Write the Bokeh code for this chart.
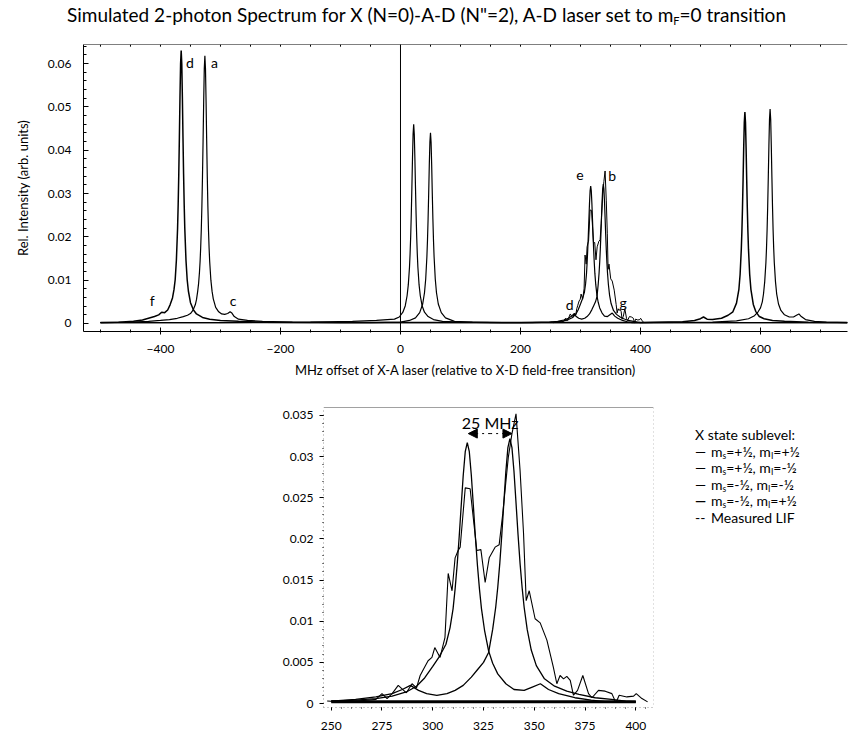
from bokeh.plotting import figure
from bokeh.models import Range1d, FixedTicker, Span, Arrow, NormalHead, Div
from bokeh.layouts import column, row
from bokeh.embed import file_html
from bokeh.resources import INLINE
from bokeh.core.properties import value

FONT = "Lato"

# ---------------- data (MHz, relative intensity) ----------------
# m_s=+1/2, m_I=+1/2  (peak "a" and peak near 616 MHz)
sim_pp = [(-500,0.0002),(-450,0.0003),(-420,0.0005),(-400,0.0007),(-385,0.0009),(-372,0.0012),(-362,0.0016),
          (-355,0.0019),(-350,0.0023),(-346,0.0030),(-342,0.0043),(-340,0.0055),(-338,0.0074),(-336.5,0.0092),
          (-335,0.0119),(-334,0.0143),(-333,0.0175),(-332,0.0216),(-331,0.0270),(-330,0.0339),(-329,0.0422),
          (-328,0.0512),(-327,0.0588),(-326,0.0618),(-325,0.0588),(-324,0.0512),(-323,0.0422),(-322,0.0339),
          (-321,0.0270),(-320,0.0216),(-319,0.0175),(-318,0.0143),(-316,0.0100),(-314,0.0074),(-312,0.0057),
          (-308,0.0037),(-303,0.0027),(-298,0.0022),(-293,0.0021),(-288,0.0023),(-284,0.0027),(-281,0.0024),
          (-277,0.0016),(-270,0.0010),(-255,0.0007),(-230,0.0005),(-180,0.0003),(-100,0.0002),(0,0.0002),
          (150,0.0002),(250,0.0002),(400,0.0002),(520,0.0003),(560,0.0006),(580,0.0011),(590,0.0018),
          (596,0.0027),(600,0.0036),(603,0.0050),(605,0.0068),(607,0.0096),(609,0.0140),(610,0.0173),
          (611,0.0216),(612,0.0271),(613,0.0338),(614,0.0410),(615,0.0471),(616,0.0495),(617,0.0471),
          (618,0.0410),(619,0.0338),(620,0.0271),(621,0.0216),(622,0.0173),(623,0.0140),(625,0.0096),
          (627,0.0068),(630,0.0045),(634,0.0030),(640,0.0020),(648,0.0015),(655,0.0015),(660,0.0019),
          (664,0.0022),(668,0.0016),(675,0.0009),(690,0.0005),(710,0.0003),(745,0.0002)]

# m_s=+1/2, m_I=-1/2  (peak near 22 MHz and peak "e")
sim_pm = [(-500,0.0002),(-300,0.0002),(-150,0.0003),(-80,0.0005),(-40,0.0007),(-10,0.0010),(-2,0.0015),
          (4,0.0026),(8,0.0041),(11,0.0064),(13,0.0089),(15,0.0130),(16,0.0161),(17,0.0201),(18,0.0252),
          (19,0.0314),(20,0.0381),(21,0.0437),(22,0.0460),(23,0.0437),(24,0.0381),(25,0.0314),(26,0.0252),
          (27,0.0201),(28,0.0161),(29,0.0130),(31,0.0089),(33,0.0064),(36,0.0041),(40,0.0026),(46,0.0016),
          (55,0.0009),(70,0.0005),(100,0.0003),(150,0.0002),(200,0.0002),(250,0.0003),(262,0.0004),
          (272,0.0006),(280,0.0009),(287,0.0014),(292,0.0021),(296,0.0031),(300,0.0045),(303,0.0056),
          (305,0.0065),(306.5,0.0072),(308.5,0.0092),(310,0.0115),(311,0.0139),(312,0.0168),(313,0.0202),
          (314,0.0240),(315,0.0277),(316,0.0306),(317,0.0317),(318,0.0306),(319,0.0277),(320,0.0240),
          (321,0.0202),(322,0.0168),(323,0.0139),(324,0.0115),(325.5,0.0089),(327.5,0.0064),(329.5,0.0049),
          (332,0.0036),(336,0.0024),(340,0.0017),(345,0.0016),(349,0.0020),(353,0.0024),(357,0.0017),
          (362,0.0012),(370,0.0007),(378,0.0004),(386,0.0002),(400,0.0002),(480,0.0002),(600,0.0002),
          (745,0.0002)]

# m_s=-1/2, m_I=-1/2  (peak near 50 MHz and peak "b")
sim_mm = [(-500,0.0002),(-300,0.0002),(-150,0.0002),(-50,0.0002),(0,0.0003),(15,0.0007),(25,0.0013),
          (32,0.0025),(37,0.0045),(40,0.0071),(42,0.0102),(44,0.0154),(45,0.0192),(46,0.0241),(47,0.0300),
          (48,0.0365),(49,0.0418),(50,0.0440),(51,0.0418),(52,0.0365),(53,0.0300),(54,0.0241),(55,0.0192),
          (56,0.0154),(58,0.0102),(60,0.0071),(63,0.0045),(68,0.0025),(75,0.0013),(90,0.0005),(120,0.0003),
          (170,0.0002),(220,0.0002),(250,0.0003),(262,0.0005),(272,0.0008),(280,0.0012),(285,0.0017),
          (289,0.0022),(293,0.0016),(297,0.0012),(302,0.0010),(307,0.0012),(311,0.0016),(315,0.0022),
          (319,0.0032),(322,0.0041),(325,0.0050),(327.5,0.0062),(329.5,0.0090),(331,0.0117),(332,0.0141),
          (333,0.0170),(334,0.0205),(335,0.0244),(336,0.0282),(337,0.0311),(338,0.0322),(339,0.0311),
          (340,0.0282),(341,0.0244),(342,0.0205),(343,0.0170),(344,0.0141),(345,0.0117),(346.5,0.0090),
          (348.5,0.0065),(351,0.0046),(355,0.0030),(360,0.0021),(366,0.0015),(372,0.0011),(380,0.0007),
          (388,0.0005),(395,0.0003),(400,0.0002),(480,0.0002),(600,0.0002),(745,0.0002)]

# m_s=-1/2, m_I=+1/2  (peak "d" and peak near 574 MHz) - drawn heavier
sim_mp = [(-500,0.0002),(-470,0.0003),(-445,0.0005),(-430,0.0008),(-420,0.0012),(-410,0.0016),(-403,0.0020),
          (-398,0.0026),(-393,0.0025),(-388,0.0031),(-384,0.0043),(-380,0.0059),(-377.5,0.0078),
          (-375.5,0.0101),(-373.5,0.0146),(-371.5,0.0220),(-370.5,0.0275),(-369.5,0.0345),(-368.5,0.0430),
          (-367.5,0.0522),(-366.5,0.0599),(-365.5,0.0630),(-364.5,0.0599),(-363.5,0.0522),(-362.5,0.0430),
          (-361.5,0.0345),(-360.5,0.0275),(-359.5,0.0220),(-357.5,0.0146),(-355.5,0.0101),(-353.5,0.0075),
          (-350,0.0048),(-345,0.0031),(-340,0.0022),(-330,0.0014),(-318,0.0010),(-300,0.0007),(-270,0.0005),
          (-230,0.0003),(-150,0.0002),(0,0.0002),(150,0.0002),(250,0.0002),(400,0.0002),(470,0.0004),
          (490,0.0007),(500,0.0011),(505,0.0015),(511,0.0010),(520,0.0009),(535,0.0012),(546,0.0019),
          (554,0.0027),(560,0.0047),(564,0.0079),(566,0.0113),(568,0.0171),(569,0.0213),(570,0.0267),
          (571,0.0333),(572,0.0405),(573,0.0464),(574,0.0488),(575,0.0464),(576,0.0405),(577,0.0333),
          (578,0.0267),(579,0.0213),(580,0.0171),(582,0.0113),(584,0.0079),(588,0.0044),(592,0.0028),
          (598,0.0016),(606,0.0011),(620,0.0007),(640,0.0005),(680,0.0003),(745,0.0002)]

# Measured LIF
measured = [(248,0.0003),(255,0.0002),(262,0.0003),(268,0.0004),(272,0.0005),(275,0.0012),(277.5,0.0006),
            (280,0.0012),(283,0.0022),(287,0.0013),(289.8,0.0024),(292,0.0019),(293.8,0.0034),(295.5,0.0042),
            (297.7,0.0052),(299.6,0.0056),(301,0.0068),(303.6,0.0056),(306,0.0080),(307.6,0.0158),
            (309.5,0.0137),(311,0.0177),(312.5,0.0186),(313.5,0.0190),(316,0.0262),(318.4,0.0261),
            (321.7,0.0186),(323.7,0.0187),(325.8,0.0147),(327.8,0.0177),(330.7,0.0190),(332.7,0.0193),
            (334.5,0.0231),(335.7,0.0262),(337.2,0.0299),(339,0.0328),(341,0.0352),(343,0.0283),
            (344.7,0.0207),(346,0.0125),(347.5,0.0137),(350.4,0.0103),(352.9,0.0098),(356.2,0.0077),
            (359.4,0.0044),(361.1,0.0024),(362.7,0.0034),(364.4,0.0030),(366,0.0033),(367.7,0.0028),
            (369.3,0.0010),(371.3,0.0016),(373.9,0.0034),(376.7,0.0012),(378.4,0.0007),(381.6,0.0016),
            (384.9,0.0015),(388.2,0.0012),(390.2,0.0001),(391.8,0.0010),(395.6,0.0008),(398.9,0.0009),
            (400.2,0.0012),(403,0.0006),(405.8,0.0002)]

legend_title = "X state sublevel:"
series_names_html = ["m<sub>s</sub>=+½, m<sub>I</sub>=+½", "m<sub>s</sub>=+½, m<sub>I</sub>=-½",
                     "m<sub>s</sub>=-½, m<sub>I</sub>=-½", "m<sub>s</sub>=-½, m<sub>I</sub>=+½", "Measured LIF"]
legend_marks = ["—", "—", "—", "<b>—</b>", "--"]

peak_letters = ["d", "a", "f", "c", "e", "b", "d", "g"]
peak_letter_x = [-351, -310, -414, -279, 299, 353, 282, 371]
peak_letter_y = [0.0603, 0.0603, 0.0053, 0.0053, 0.0342, 0.0342, 0.0044, 0.0049]

top_x_ticks = [-400, -200, 0, 200, 400, 600]
top_x_labels = ["−400", "−200", "0", "200", "400", "600"]
top_y_ticks = [0, 0.01, 0.02, 0.03, 0.04, 0.05, 0.06]
top_y_labels = ["0", "0.01", "0.02", "0.03", "0.04", "0.05", "0.06"]

bot_x_ticks = [250, 275, 300, 325, 350, 375, 400]
bot_x_labels = ["250", "275", "300", "325", "350", "375", "400"]
bot_y_ticks = [0, 0.005, 0.01, 0.015, 0.02, 0.025, 0.03, 0.035]
bot_y_labels = ["0", "0.005", "0.01", "0.015", "0.02", "0.025", "0.03", "0.035"]

span_label = "25 MHz"
span_from, span_to = 317.5, 339.0

top_x_minor = [-500 + 50 * k for k in range(26)]
top_y_minor = [0.002 * k for k in range(33)]
bot_x_minor = [245 + 5 * k for k in range(34)]
bot_y_minor = [0.001 * k for k in range(37)]

TOP_XR = (-528.3, 745.0)
TOP_YR = (-0.00185, 0.0644)
BOT_XR = (246.2, 408.7)
BOT_YR = (-0.000486, 0.03597)


def split(pairs):
    return [p[0] for p in pairs], [p[1] for p in pairs]


def clip(pairs, lo, hi):
    return split([p for p in pairs if lo <= p[0] <= hi])


def style_axis(ax, size="12px"):
    ax.major_label_text_font = FONT
    ax.major_label_text_font_size = size
    ax.major_label_text_color = "black"
    ax.axis_label_text_font = FONT
    ax.axis_label_text_font_style = "normal"
    ax.axis_label_text_color = "black"
    ax.axis_line_color = "black"
    ax.major_tick_line_color = "black"
    ax.minor_tick_line_color = "black"


# ---------------- title (HTML, for the subscript) ----------------
title_html = ('<div style="font-family:Lato, sans-serif;font-size:19px;color:black;white-space:nowrap;'
              'padding-left:67px;line-height:30px;height:30px;">'
              'Simulated 2-photon Spectrum for X (N=0)-A-D (N"=2), A-D laser set to m'
              '<sub style="font-size:11px;line-height:0;vertical-align:-3px;">F</sub>=0 transition</div>')
title_div = Div(text=title_html, width=858, height=30, margin=(0, 0, 0, 0))

# ---------------- top plot ----------------
top = figure(width=858, height=356, x_range=Range1d(*TOP_XR), y_range=Range1d(*TOP_YR),
             min_border_left=83, min_border_right=11, min_border_top=14, min_border_bottom=55,
             output_backend="svg", toolbar_location=None)
top.grid.visible = False
top.outline_line_color = None
top.background_fill_color = "white"
top.border_fill_color = "white"

for data, lw in [(sim_pp, 1.2), (sim_pm, 1.2), (sim_mm, 1.2), (sim_mp, 1.5)]:
    xs, ys = split(data)
    top.line(xs, ys, line_color="black", line_width=lw)
xs, ys = split(measured)
top.line(xs, ys, line_color="black", line_width=1)
top.add_layout(Span(location=0, dimension="height", line_color="black", line_width=1))
top.text(x=peak_letter_x, y=peak_letter_y, text=peak_letters, text_align="center", text_baseline="middle",
         text_font=value(FONT), text_font_size="14px", text_color="black")

# top border with small inward ticks
top.add_layout(Span(location=TOP_YR[1], dimension="width", line_color="black", line_width=1.2))
top.segment(x0=top_x_minor, x1=top_x_minor, y0=[TOP_YR[1]] * len(top_x_minor),
            y1=[TOP_YR[1] - 0.0005] * len(top_x_minor), line_color="black", line_width=1)

xa = top.xaxis[0]
xa.ticker = FixedTicker(ticks=top_x_ticks, minor_ticks=top_x_minor)
xa.major_label_overrides = dict(zip(top_x_ticks, top_x_labels))
style_axis(xa, "12px")
xa.axis_label = "MHz offset of X-A laser (relative to X-D field-free transition)"
xa.axis_label_text_font_size = "13px"
xa.major_tick_in, xa.major_tick_out = 4, 3
xa.minor_tick_in, xa.minor_tick_out = 2, 1
xa.major_label_standoff = 10
xa.axis_label_standoff = 6

ya = top.yaxis[0]
ya.ticker = FixedTicker(ticks=top_y_ticks, minor_ticks=top_y_minor)
ya.major_label_overrides = dict(zip(top_y_ticks, top_y_labels))
style_axis(ya, "12px")
ya.axis_label = "Rel. Intensity (arb. units)"
ya.axis_label_text_font_size = "13px"
ya.major_tick_in, ya.major_tick_out = 5, 0
ya.minor_tick_in, ya.minor_tick_out = 3, 0
ya.major_label_standoff = 12
ya.axis_label_standoff = 14

# ---------------- bottom (zoom) plot ----------------
bot = figure(width=670, height=351, x_range=Range1d(*BOT_XR), y_range=Range1d(*BOT_YR),
             min_border_left=323, min_border_right=17, min_border_top=21, min_border_bottom=30,
             output_backend="svg", toolbar_location=None)
bot.grid.visible = False
bot.outline_line_color = None
bot.background_fill_color = "white"
bot.border_fill_color = "white"

for data, lw in [(sim_pp, 1.3), (sim_pm, 1.3), (sim_mm, 1.3), (sim_mp, 3.0)]:
    xs, ys = clip(data, 250, 400)
    bot.line(xs, ys, line_color="black", line_width=lw)
xs, ys = split(measured)
bot.line(xs, ys, line_color="black", line_width=1.1)

bot.text(x=[(span_from + span_to) / 2], y=[0.0341], text=[span_label], text_align="center",
         text_baseline="middle", text_font=value(FONT), text_font_size="16px", text_color="black")
bot.add_layout(Arrow(start=None,
                     end=NormalHead(size=9, fill_color="black", line_color="black"),
                     x_start=(span_from + span_to) / 2, y_start=0.0328, x_end=span_to, y_end=0.0328,
                     line_dash="dotted", line_color="black", line_width=1))
bot.add_layout(Arrow(start=None,
                     end=NormalHead(size=9, fill_color="black", line_color="black"),
                     x_start=(span_from + span_to) / 2, y_start=0.0328, x_end=span_from, y_end=0.0328,
                     line_dash="dotted", line_color="black", line_width=1))

# frame: solid top, dotted right
bot.add_layout(Span(location=BOT_YR[1], dimension="width", line_color="#444444", line_width=1.2))
bot.add_layout(Span(location=BOT_XR[1], dimension="height", line_color="#888888", line_width=1,
                    line_dash="1 3"))

bx = bot.xaxis[0]
bx.ticker = FixedTicker(ticks=bot_x_ticks, minor_ticks=bot_x_minor)
bx.major_label_overrides = dict(zip(bot_x_ticks, bot_x_labels))
style_axis(bx, "12px")
bx.axis_line_color = "#999999"
bx.axis_line_dash = "1 3"
bx.major_tick_in, bx.major_tick_out = 0, 3
bx.minor_tick_in, bx.minor_tick_out = 0, 1
bx.major_label_standoff = 11

by = bot.yaxis[0]
by.ticker = FixedTicker(ticks=bot_y_ticks, minor_ticks=bot_y_minor)
by.major_label_overrides = dict(zip(bot_y_ticks, bot_y_labels))
style_axis(by, "12px")
by.axis_line_color = "#999999"
by.axis_line_dash = "1 3"
by.major_tick_in, by.major_tick_out = 0, 4
by.minor_tick_in, by.minor_tick_out = 0, 1
by.major_label_standoff = 6

# ---------------- legend panel (HTML, for the subscripts) ----------------
sub_css = "font-size:8.5px;line-height:8px;vertical-align:-2px;"
rows_html = "".join(
    '<div style="height:16.6px;line-height:15px;overflow:visible;">'
    '<span style="display:inline-block;width:16px;">' + mark + '</span>'
    + name.replace("<sub>", '<sub style="' + sub_css + '">') + '</div>'
    for mark, name in zip(legend_marks, series_names_html))
legend_html = ('<div style="font-family:Lato, sans-serif;font-size:14px;color:black;white-space:nowrap;'
               'padding-left:25px;padding-top:41px;">'
               '<div style="height:16.6px;line-height:15px;">' + legend_title + '</div>'
               + rows_html + '</div>')
legend_div = Div(text=legend_html, width=188, height=351, margin=(0, 0, 0, 0))

layout = column(title_div, top, row(bot, legend_div))
open("out.html", "w").write(file_html(layout, INLINE))
